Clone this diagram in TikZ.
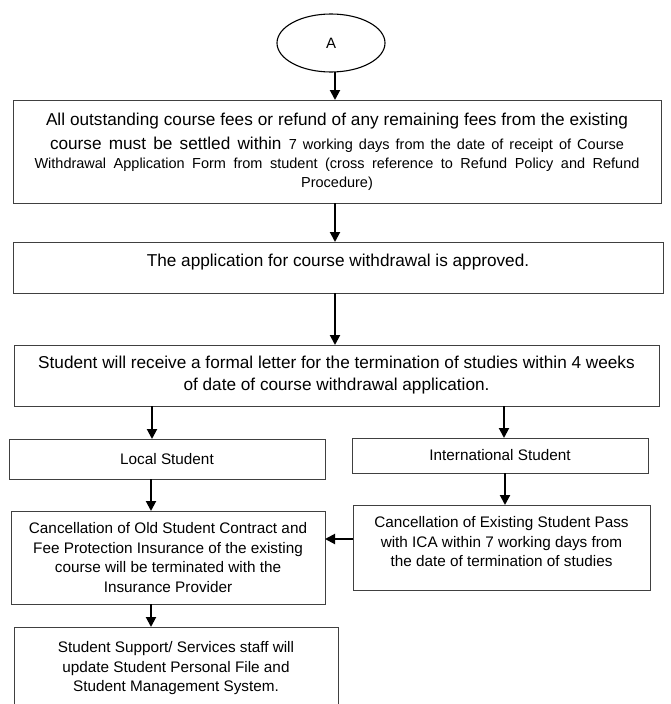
\documentclass[tikz,border=0pt]{standalone}
\usepackage{fontspec}
\setmainfont{Liberation Sans}
\usetikzlibrary{arrows.meta,shapes.geometric}
\begin{document}
\begin{tikzpicture}[x=1pt,y=-1pt,
        box/.style={draw=black!75, line width=0.9pt, rectangle, outer sep=0pt, inner sep=0pt, align=center, font=\fontsize{15.3}{19.5}\selectfont},
        bigbox/.style={box, font=\fontsize{17.2}{22}\selectfont},
        flow/.style={-{Triangle[width=10pt,length=10pt]}, line width=2pt}]
        \useasboundingbox (0,0) rectangle (671,704);
        \coordinate (M) at (335,0);
        \node[draw, ellipse, line width=1.1pt, minimum width=108pt, minimum height=58pt, outer sep=0pt, font=\fontsize{15}{18}\selectfont] (A) at (331,43) {A};
        \node[box, minimum width=648pt, minimum height=103pt, font=\fontsize{14.5}{19}\selectfont] (FEES) at (337,151.5) {%
            \makebox[582pt][s]{\fontsize{17.2}{19}\selectfont All outstanding course fees or refund of any remaining fees from the existing}\\[5pt]
            \makebox[574pt][s]{\fontsize{17.2}{19}\selectfont course must be settled within \fontsize{14.5}{19}\selectfont 7 working days from the date of receipt of Course}\\
            \makebox[605pt][s]{Withdrawal Application Form from student (cross reference to Refund Policy and Refund}\\
            Procedure)};
        \node[bigbox, minimum width=650pt, minimum height=51pt, text depth=14.6pt] (APPR) at (338,267.5) {The application for course withdrawal is approved.};
        \node[bigbox, minimum width=645pt, minimum height=61pt] (LETTER) at (336.5,375.5) {Student will receive a formal letter for the termination of studies within 4 weeks\\ of date of course withdrawal application.};
        \node[box, minimum width=316pt, minimum height=40pt] (LOC) at (167,459) {Local Student};
        \node[box, minimum width=296pt, minimum height=35pt] (INTL) at (500,455.5) {International Student};
        \node[box, minimum width=314pt, minimum height=93pt] (OLD) at (168,557.5) {Cancellation of Old Student Contract and\\ Fee Protection Insurance of the existing\\ course will be terminated with the\\ Insurance Provider};
        \node[box, minimum width=297pt, minimum height=85pt, text depth=11.3pt] (PASS) at (501.5,547.5) {Cancellation of Existing Student Pass\\ with ICA within 7 working days from\\ the date of termination of studies};
        \node[box, minimum width=324pt, minimum height=83pt] (UPD) at (176,668.5) {Student Support/ Services staff will\\ update Student Personal File and\\ Student Management System.};
        \draw[flow] (A.south -| M) -- (FEES.north -| M);
        \draw[flow] (FEES.south -| M) -- (APPR.north -| M);
        \draw[flow] (APPR.south -| M) -- (LETTER.north -| M);
        \draw[flow] ([xshift=-15pt]LOC.north |- LETTER.south) -- ([xshift=-15pt]LOC.north);
        \draw[flow] ([xshift=4pt]INTL.north |- LETTER.south) -- ([xshift=4pt]INTL.north);
        \draw[flow] ([xshift=5pt]INTL.south) -- ([xshift=5pt]INTL.south |- PASS.north);
        \draw[flow] ([xshift=-16pt]LOC.south) -- ([xshift=-16pt]LOC.south |- OLD.north);
        \draw[flow] ([yshift=8.5pt]PASS.west) -- ([yshift=8.5pt]PASS.west -| OLD.east);
        \draw[flow] ([xshift=-17pt]OLD.south) -- ([xshift=-17pt]OLD.south |- UPD.north);
    \end{tikzpicture}
\end{document}
